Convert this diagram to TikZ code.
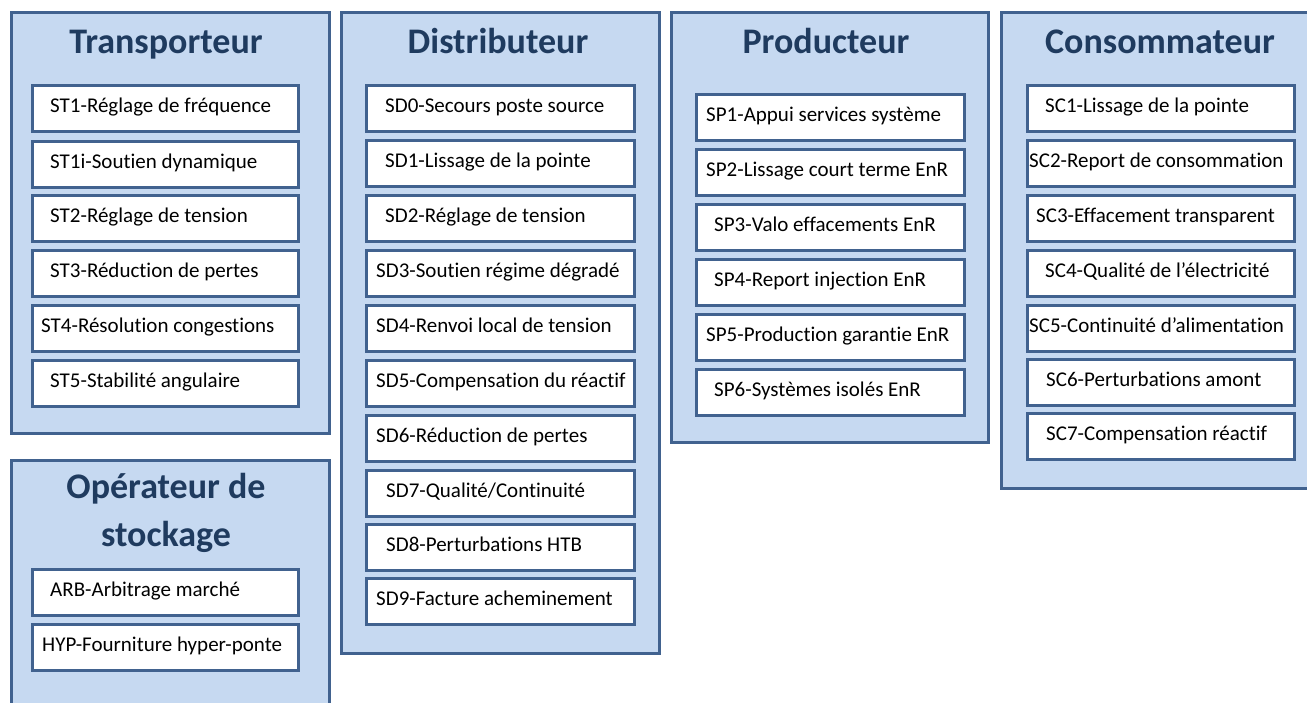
\documentclass[tikz,border=0pt]{standalone}
\usepackage{fontspec}
\setmainfont{Carlito}[Ligatures={NoCommon,NoContextual}]
\definecolor{panelfill}{HTML}{C6D9F1}
\definecolor{panelline}{HTML}{41628F}
\definecolor{titleblue}{HTML}{1F3B5F}
\begin{document}
\begin{tikzpicture}[x=1pt,y=-1pt,
  panel/.style={draw=panelline,fill=panelfill,line width=2.6pt,rectangle,anchor=north west,inner sep=0pt},
  itembox/.style={draw=panelline,fill=white,line width=2.6pt,rectangle,anchor=north west,inner sep=0pt,minimum height=46pt},
  itemtext/.style={anchor=base west,inner sep=0pt,font=\fontsize{21}{25}\selectfont},
  paneltitle/.style={inner sep=0pt,anchor=base,text=titleblue,font=\fontsize{36}{48}\selectfont\bfseries,align=center}]
\useasboundingbox (0,0) rectangle (1307,702);

% panels
\node[panel,minimum width=318pt,minimum height=421pt] (trans) at (10,11) {};
\node[panel,minimum width=318pt,minimum height=260pt] (stock) at (10,459) {};
\node[panel,minimum width=318pt,minimum height=641pt] (distr) at (340,11) {};
\node[panel,minimum width=317pt,minimum height=430pt] (prod) at (670,11) {};
\node[panel,minimum width=320pt,minimum height=476pt] (conso) at (1000,11) {};

% titles (a two-line title sits on the baseline of its last line)
\node[paneltitle] (transT) at (166,53) {Transporteur};
\node[paneltitle] (stockT) at (166,546) {Opérateur de\\stockage};
\node[paneltitle] (distrT) at (498,53) {Distributeur};
\node[paneltitle] (prodT) at (826,53) {Producteur};
\node[paneltitle] (consoT) at (1160,53) {Consommateur};

% Transporteur services
\foreach \n/\y/\tx/\t in {st1/84/50/{ST1-Réglage de fréquence},
  st1i/140/50/{ST1i-Soutien dynamique},
  st2/194/50/{ST2-Réglage de tension},
  st3/249/50/{ST3-Réduction de pertes},
  st4/304/41/{ST4-Résolution congestions},
  st5/359/50/{ST5-Stabilité angulaire}}{
  \node[itembox,minimum width=266pt] (\n) at (31,\y) {};
  \node[itemtext] (\n t) at (\tx,\y+28) {\t};
}

% Opérateur de stockage services
\foreach \n/\y/\tx/\t in {arb/568/50/{ARB-Arbitrage marché},
  hyp/623/42/{HYP-Fourniture hyper-ponte}}{
  \node[itembox,minimum width=266pt] (\n) at (31,\y) {};
  \node[itemtext] (\n t) at (\tx,\y+28) {\t};
}

% Distributeur services
\foreach \n/\y/\tx/\t in {sd0/84/385/{SD0-Secours poste source},
  sd1/139/385/{SD1-Lissage de la pointe},
  sd2/194/385/{SD2-Réglage de tension},
  sd3/249/376/{SD3-Soutien régime dégradé},
  sd4/304/376/{SD4-Renvoi local de tension},
  sd5/359/376/{SD5-Compensation du réactif},
  sd6/414/376/{SD6-Réduction de pertes},
  sd7/469/386/{SD7-Qualité/Continuité},
  sd8/523/386/{SD8-Perturbations HTB},
  sd9/577/376/{SD9-Facture acheminement}}{
  \node[itembox,minimum width=268pt] (\n) at (365,\y) {};
  \node[itemtext] (\n t) at (\tx,\y+28) {\t};
}

% Producteur services
\foreach \n/\y/\tx/\t in {sp1/93/706/{SP1-Appui services système},
  sp2/148/706/{SP2-Lissage court terme EnR},
  sp3/203/714/{SP3-Valo effacements EnR},
  sp4/258/714/{SP4-Report injection EnR},
  sp5/313/706/{SP5-Production garantie EnR},
  sp6/368/714/{SP6-Systèmes isolés EnR}}{
  \node[itembox,minimum width=268pt] (\n) at (695,\y) {};
  \node[itemtext] (\n t) at (\tx,\y+28) {\t};
}

% Consommateur services
\foreach \n/\y/\tx/\t in {sc1/84/1045/{SC1-Lissage de la pointe},
  sc2/139/1029/{SC2-Report de consommation},
  sc3/194/1036/{SC3-Effacement transparent},
  sc4/249/1045/{SC4-Qualité de l’électricité},
  sc5/304/1029/{SC5-Continuité d’alimentation},
  sc6/358/1046/{SC6-Perturbations amont},
  sc7/412/1046/{SC7-Compensation réactif}}{
  \node[itembox,minimum width=267pt] (\n) at (1026,\y) {};
  \node[itemtext] (\n t) at (\tx,\y+28) {\t};
}
\end{tikzpicture}
\end{document}
